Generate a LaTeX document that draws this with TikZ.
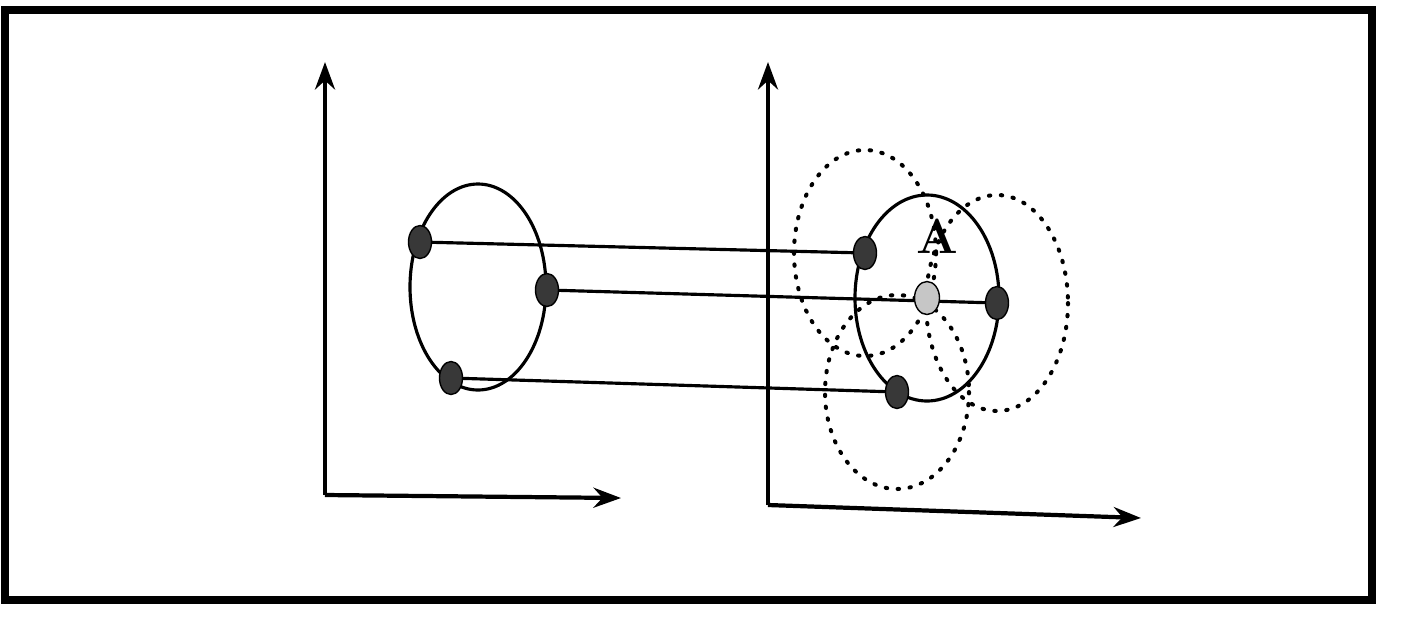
\documentclass[tikz,border=0pt]{standalone}
\usetikzlibrary{arrows.meta,shapes.geometric}
\begin{document}
\begin{tikzpicture}[
    x=0.02cm, y=-0.02cm,
    axis/.style={-{Stealth[length=0.55cm, width=0.4cm, inset=0.18cm]}, line width=2.4pt},
    ring/.style={draw, line width=1.8pt},
    vote/.style={draw, line width=2.3pt, dash pattern=on 0.8pt off 6pt, line cap=round},
    link/.style={line width=1.8pt},
    dot/.style={ellipse, draw=black, fill=black!78, line width=0.8pt, inner sep=0pt, minimum width=0.46cm, minimum height=0.66cm},
    hub/.style={dot, fill=gray!45, minimum width=0.5cm}
]

\useasboundingbox (0,0) rectangle (1401,627);

% Frame
\draw[line width=5pt] (5,10) -- (1372,10) -- (1372,600) -- (5,600) -- cycle;

% Left axes
\coordinate (oL) at (325,495);
\coordinate (yL) at (325,62);
\coordinate (xL) at (621,498);
\draw[axis] (oL) -- (yL);
\draw[axis] (oL) -- (xL);

% Right axes
\coordinate (oR) at (768,505);
\coordinate (yR) at (768,62);
\coordinate (xR) at (1141,518);
\draw[axis] (oR) -- (yR);
\draw[axis] (oR) -- (xR);

% Edge points and their images
\coordinate (p1) at (420,242);
\coordinate (p2) at (547,290);
\coordinate (p3) at (451,378);
\coordinate (q1) at (865,253);
\coordinate (q2) at (997,303);
\coordinate (q3) at (897,392);
\coordinate (ctr) at (927,298);

% Circle in image space
\draw[ring] (478,287) ellipse [x radius=68, y radius=103];

% Voting circles
\draw[vote] (q1) ellipse [x radius=71, y radius=103];
\draw[vote] (q2) ellipse [x radius=71, y radius=108];
\draw[vote] (q3) ellipse [x radius=72, y radius=97];

% Circle in parameter space
\draw[ring] (ctr) ellipse [x radius=72, y radius=103];

% Mapping lines
\draw[link] (p1) -- (q1);
\draw[link] (p2) -- (q2);
\draw[link] (p3) -- (q3);

% Points
\node[dot] (a1) at (p1) {};
\node[dot] (a2) at (p2) {};
\node[dot] (a3) at (p3) {};
\node[dot] (b1) at (q1) {};
\node[dot] (b2) at (q2) {};
\node[dot] (b3) at (q3) {};
\node[hub] (centre) at (ctr) {};

% Label
\node[font=\bfseries\fontsize{28}{28}\selectfont] (lblA) at (937,236) {A};

\end{tikzpicture}
\end{document}
